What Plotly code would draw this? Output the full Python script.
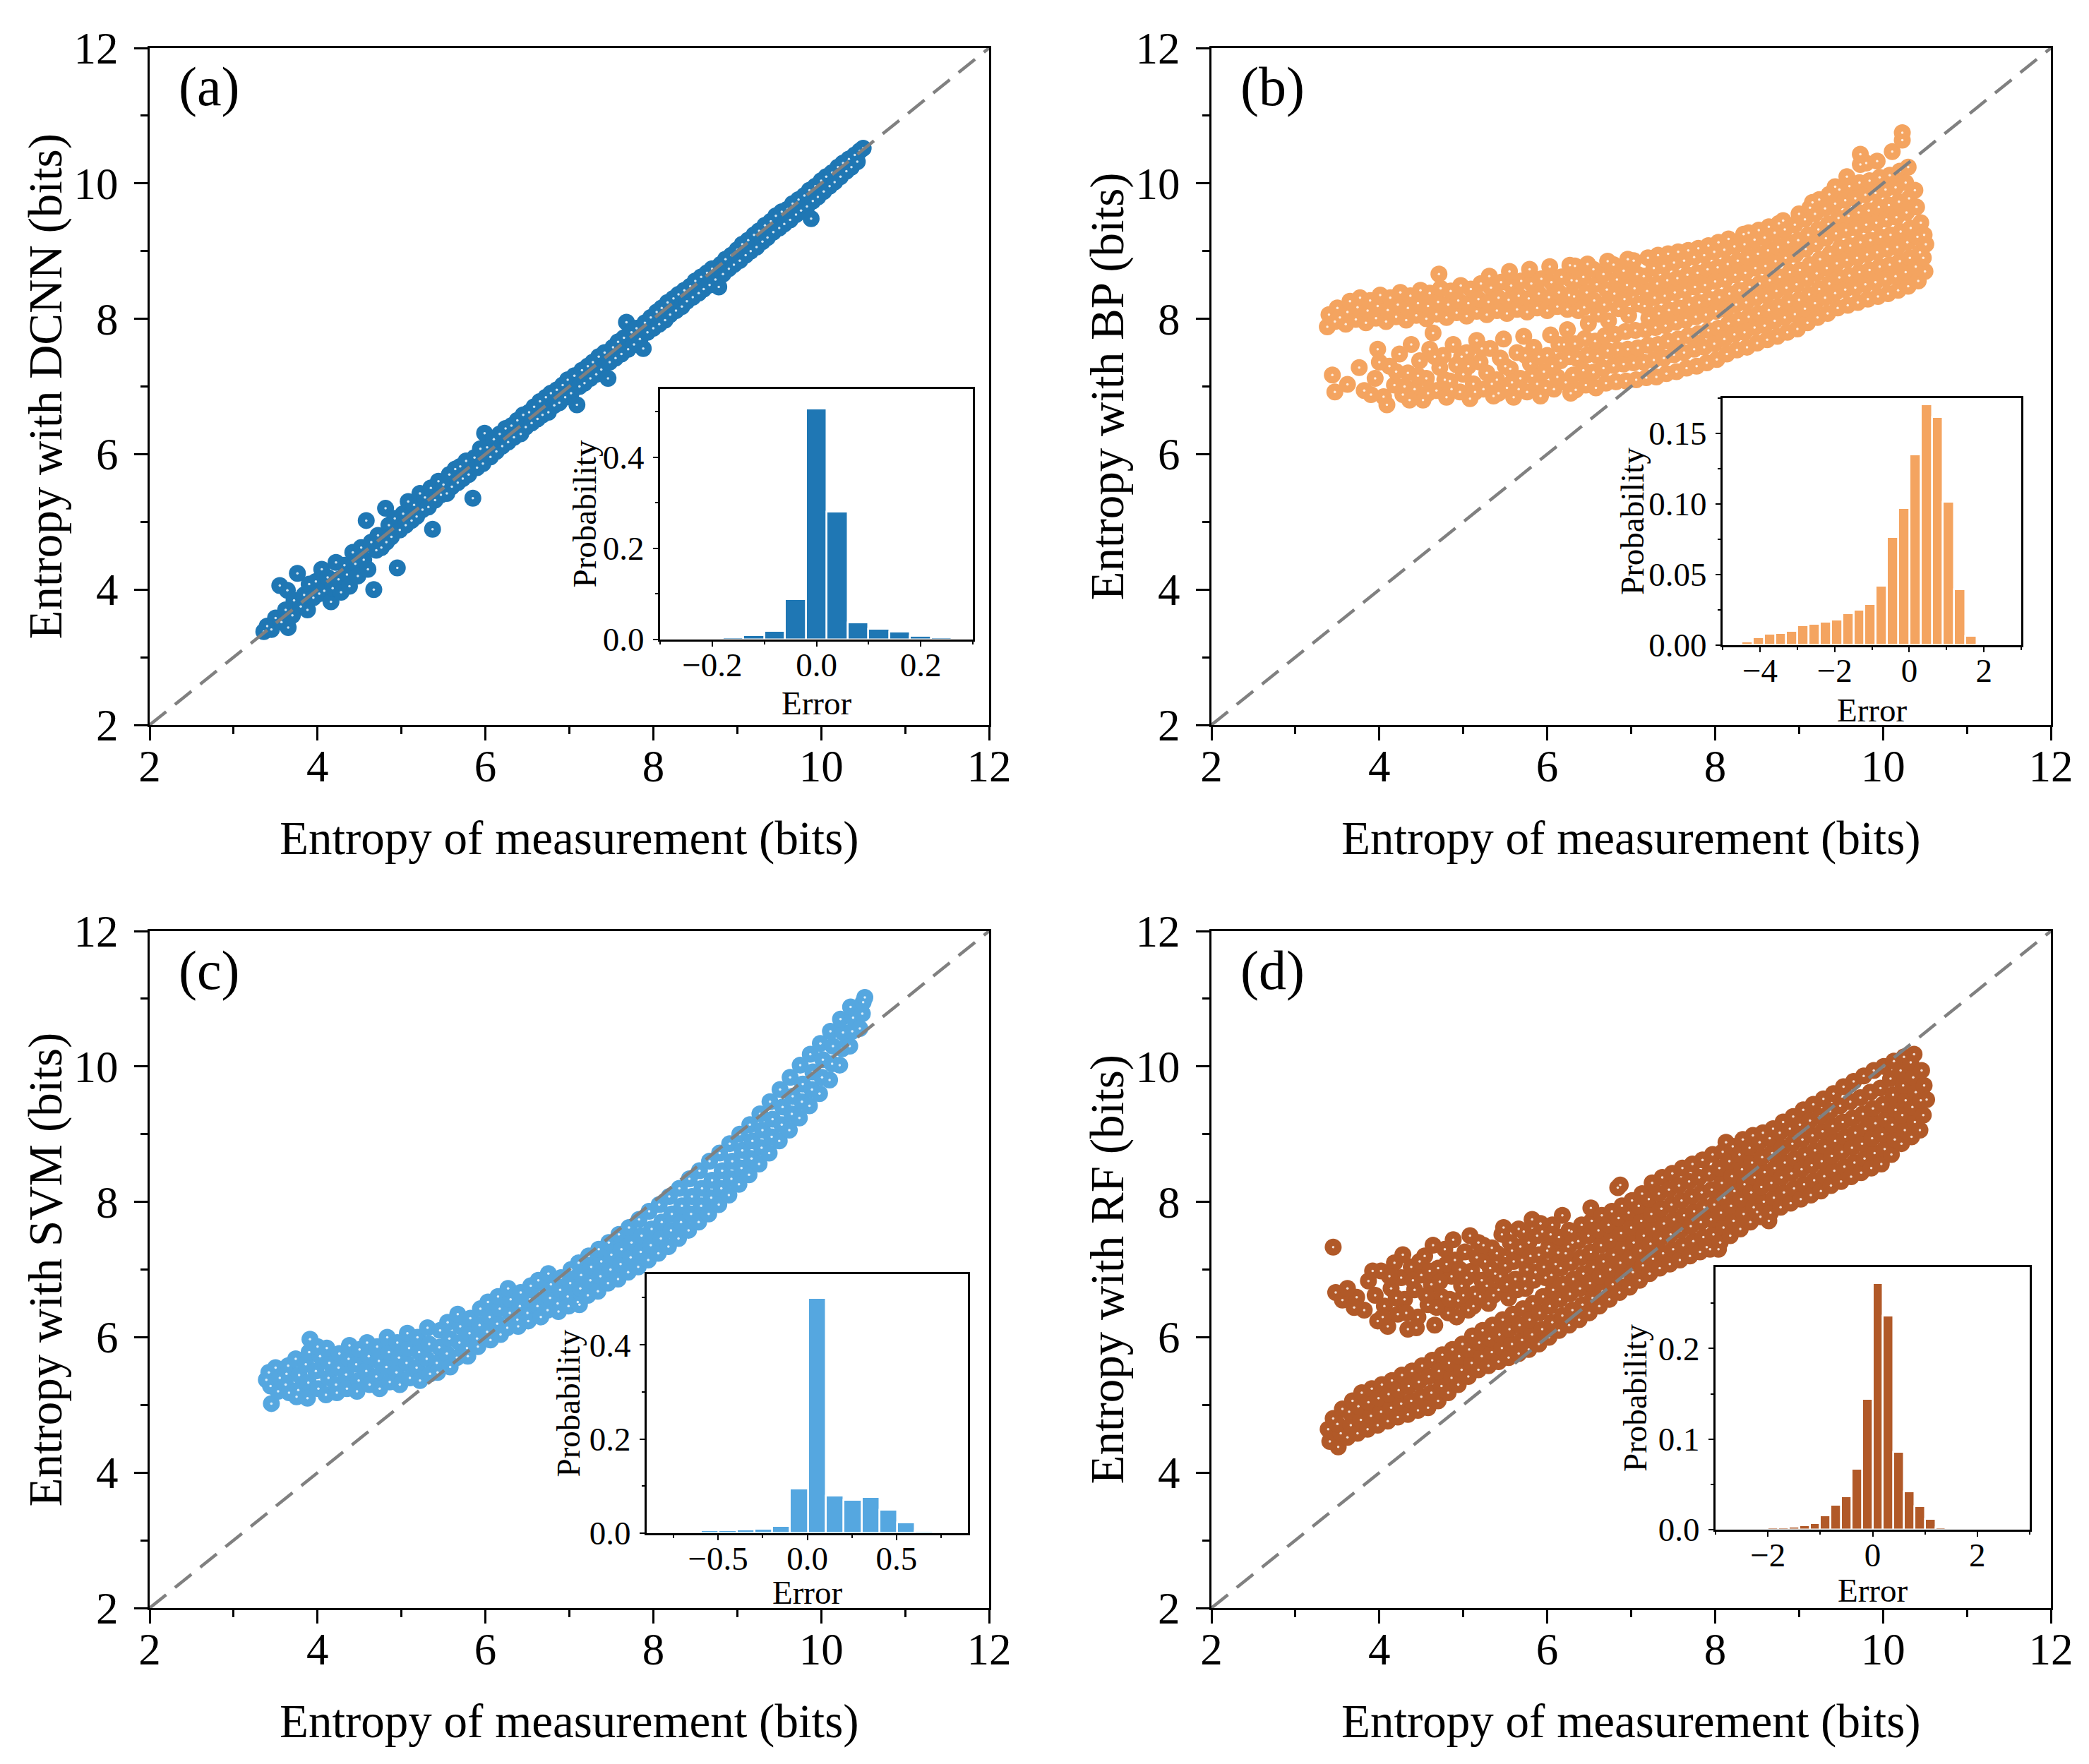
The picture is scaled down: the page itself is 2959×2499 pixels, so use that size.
import plotly.graph_objects as go

W, H = 2959, 2499
FONT = "Liberation Serif"

dcnn_pts = [
    (3.36, 3.38), (3.40, 3.46), (3.45, 3.41), (3.50, 3.58), (3.55, 4.06), (3.57, 3.52),
    (3.62, 3.70), (3.64, 3.99), (3.65, 3.44), (3.70, 3.62), (3.72, 3.84), (3.76, 4.24),
    (3.80, 3.75), (3.84, 3.92), (3.88, 3.70), (3.90, 4.08), (3.95, 3.88), (3.98, 4.12),
    (4.02, 3.94), (4.05, 4.30), (4.08, 3.98), (4.12, 4.18), (4.16, 3.82), (4.18, 4.02),
    (4.22, 4.40), (4.25, 4.15), (4.28, 3.96), (4.32, 4.36), (4.35, 4.22), (4.38, 4.05),
    (4.42, 4.55), (4.45, 4.38), (4.48, 4.20), (4.52, 4.62), (4.55, 4.44), (4.58, 5.02),
    (4.60, 4.30), (4.64, 4.70), (4.67, 4.00), (4.70, 4.58), (4.72, 4.80), (4.76, 4.62),
    (4.81, 5.20), (4.82, 4.70), (4.85, 4.95), (4.88, 4.78), (4.92, 5.05), (4.95, 4.32),
    (4.98, 4.88), (5.02, 5.12), (5.05, 4.95), (5.08, 5.30), (5.12, 5.02), (5.15, 5.25),
    (5.18, 5.08), (5.22, 5.42), (5.25, 5.18), (5.28, 5.36), (5.32, 5.22), (5.35, 5.50),
    (5.37, 4.89), (5.40, 5.32), (5.44, 5.60), (5.47, 5.40), (5.50, 5.55), (5.54, 5.42),
    (5.57, 5.70), (5.60, 5.52), (5.64, 5.78), (5.67, 5.58), (5.70, 5.82), (5.73, 5.64),
    (5.77, 5.90), (5.80, 5.70), (5.85, 5.35), (5.87, 5.95), (5.90, 5.80), (5.94, 6.08),
    (5.97, 5.86), (5.99, 6.31), (6.02, 6.10), (6.06, 5.96), (6.10, 6.22), (6.13, 6.04),
    (6.17, 6.30), (6.20, 6.12), (6.24, 6.38), (6.27, 6.18), (6.31, 6.42), (6.34, 6.25),
    (6.38, 6.50), (6.42, 6.30), (6.45, 6.58), (6.48, 6.40), (6.52, 6.62), (6.55, 6.46),
    (6.58, 6.70), (6.62, 6.52), (6.65, 6.78), (6.68, 6.58), (6.72, 6.84), (6.75, 6.62),
    (6.78, 6.90), (6.82, 6.72), (6.85, 6.95), (6.88, 6.76), (6.92, 7.02), (6.95, 6.84),
    (6.98, 7.10), (7.02, 6.90), (7.06, 7.16), (7.09, 6.73), (7.12, 7.00), (7.15, 7.24),
    (7.18, 7.05), (7.22, 7.30), (7.25, 7.12), (7.28, 7.36), (7.32, 7.18), (7.35, 7.44),
    (7.38, 7.25), (7.42, 7.50), (7.46, 7.12), (7.48, 7.36), (7.52, 7.58), (7.55, 7.42),
    (7.58, 7.66), (7.62, 7.48), (7.65, 7.72), (7.68, 7.95), (7.70, 7.55), (7.74, 7.80),
    (7.77, 7.62), (7.80, 7.86), (7.84, 7.70), (7.88, 7.56), (7.90, 7.94), (7.93, 7.80),
    (7.97, 8.02), (8.00, 7.86), (8.04, 8.10), (8.07, 7.92), (8.10, 8.16), (8.14, 7.98),
    (8.17, 8.24), (8.20, 8.06), (8.24, 8.30), (8.27, 8.12), (8.30, 8.36), (8.34, 8.18),
    (8.37, 8.42), (8.40, 8.26), (8.44, 8.48), (8.47, 8.32), (8.50, 8.56), (8.54, 8.38),
    (8.57, 8.62), (8.60, 8.44), (8.64, 8.68), (8.67, 8.50), (8.70, 8.74), (8.74, 8.58),
    (8.78, 8.47), (8.80, 8.80), (8.83, 8.66), (8.86, 8.88), (8.90, 8.74), (8.93, 8.94),
    (8.96, 8.80), (9.00, 9.02), (9.03, 8.86), (9.06, 9.10), (9.10, 8.94), (9.13, 9.16),
    (9.16, 9.00), (9.20, 9.24), (9.23, 9.06), (9.26, 9.30), (9.30, 9.14), (9.33, 9.38),
    (9.36, 9.20), (9.40, 9.44), (9.43, 9.28), (9.46, 9.52), (9.50, 9.34), (9.53, 9.58),
    (9.56, 9.40), (9.60, 9.62), (9.63, 9.46), (9.66, 9.70), (9.70, 9.54), (9.73, 9.76),
    (9.76, 9.60), (9.80, 9.82), (9.83, 9.66), (9.86, 9.90), (9.88, 9.48), (9.90, 9.74),
    (9.93, 9.96), (9.96, 9.80), (10.00, 10.04), (10.03, 9.88), (10.06, 10.10), (10.10, 9.96),
    (10.13, 10.16), (10.16, 10.02), (10.20, 10.24), (10.23, 10.10), (10.26, 10.30), (10.30, 10.18),
    (10.33, 10.36), (10.36, 10.24), (10.40, 10.42), (10.43, 10.32), (10.46, 10.48), (10.50, 10.52),
]

bp_pts = [
    # upper band
    (3.38, 7.88), (3.40, 8.06), (3.47, 7.96), (3.50, 8.16), (3.53, 8.02), (3.60, 7.92),
    (3.62, 8.10), (3.65, 8.26), (3.72, 7.99), (3.74, 8.17), (3.77, 8.31), (3.84, 7.94),
    (3.86, 8.12), (3.89, 8.27), (3.96, 8.01), (3.98, 8.19), (4.01, 8.35), (4.08, 7.96),
    (4.10, 8.13), (4.13, 8.31), (4.20, 8.03), (4.22, 8.21), (4.25, 8.39), (4.32, 7.98),
    (4.34, 8.16), (4.37, 8.34), (4.44, 8.05), (4.46, 8.23), (4.49, 8.42), (4.56, 8.00),
    (4.58, 8.19), (4.60, 8.38), (4.71, 8.66), (4.68, 8.07), (4.70, 8.25), (4.73, 8.45),
    (4.80, 8.02), (4.82, 8.21), (4.85, 8.41), (4.92, 8.09), (4.94, 8.27), (4.97, 8.49),
    (5.04, 8.04), (5.06, 8.23), (5.09, 8.44), (5.16, 8.11), (5.18, 8.29), (5.21, 8.52),
    (5.28, 8.06), (5.30, 8.25), (5.33, 8.46), (5.31, 8.63), (5.40, 8.12), (5.42, 8.31),
    (5.45, 8.54), (5.52, 8.08), (5.54, 8.28), (5.57, 8.49), (5.55, 8.70), (5.64, 8.14),
    (5.66, 8.34), (5.69, 8.56), (5.76, 8.10), (5.78, 8.30), (5.81, 8.52), (5.79, 8.73),
    (5.88, 8.16), (5.90, 8.37), (5.93, 8.59), (6.00, 8.12), (6.02, 8.32), (6.05, 8.54),
    (6.03, 8.77), (6.12, 8.18), (6.14, 8.39), (6.17, 8.62), (6.24, 8.14), (6.26, 8.35),
    (6.29, 8.57), (6.27, 8.79),
    # lower lobe
    (3.44, 7.17), (3.47, 6.92), (3.62, 7.03), (3.82, 6.94), (3.76, 7.28), (3.95, 7.12),
    (3.98, 7.55), (4.05, 6.85), (4.09, 6.73), (4.12, 7.30), (4.18, 7.02), (4.24, 7.48),
    (4.28, 6.88), (4.34, 7.20), (4.38, 7.62), (4.42, 6.96), (4.48, 7.38), (4.52, 6.80),
    (4.56, 7.12), (4.60, 7.55), (4.64, 7.79), (4.68, 6.94), (4.72, 7.28), (4.76, 7.46),
    (4.80, 6.84), (4.84, 7.08), (4.88, 7.62), (4.92, 7.32), (4.96, 6.92), (5.00, 7.18),
    (5.04, 7.50), (5.08, 6.82), (5.12, 7.04), (5.16, 7.68), (5.20, 7.36), (5.24, 6.96),
    (5.28, 7.20), (5.32, 7.56), (5.36, 6.86), (5.40, 7.10), (5.44, 7.42), (5.48, 7.70),
    (5.52, 6.98), (5.56, 7.26), (5.60, 6.84), (5.64, 7.50), (5.68, 7.12), (5.72, 7.74),
    (5.76, 6.92), (5.80, 7.34), (5.84, 7.58), (5.88, 7.04), (5.92, 6.86), (5.96, 7.22),
    (6.00, 7.46), (6.04, 7.76), (6.08, 6.96), (6.12, 7.14), (6.16, 7.38), (6.20, 7.62),
    (6.24, 7.84), (6.28, 6.90),
    (4.46, 7.16), (4.58, 6.90), (4.66, 7.44), (4.78, 7.10), (4.86, 6.96), (4.98, 7.44),
    (5.06, 7.30), (5.14, 6.92), (5.22, 7.56), (5.34, 7.04), (5.42, 6.90), (5.50, 7.30),
    (5.58, 7.06), (5.66, 6.96), (5.74, 7.46), (5.82, 7.16), (5.90, 7.44), (5.98, 6.98),
    (6.06, 7.30), (6.14, 7.62), (6.22, 7.06), (6.26, 7.44), (4.20, 7.22), (4.30, 7.00),
    (4.36, 6.80), (3.90, 6.88), (4.00, 7.36),
    # main body
    (6.34, 6.95), (6.31, 7.17), (6.36, 7.41), (6.33, 7.63), (6.37, 8.12), (6.32, 8.33), (6.35, 8.56), (6.33, 8.78),
    (6.46, 7.02), (6.43, 7.24), (6.48, 7.47), (6.45, 7.71), (6.49, 7.93), (6.44, 8.17), (6.47, 8.39), (6.43, 8.62), (6.48, 8.81),
    (6.58, 6.98), (6.55, 7.21), (6.60, 7.45), (6.57, 7.67), (6.61, 8.07), (6.56, 8.27), (6.59, 8.51), (6.55, 8.73),
    (6.70, 7.05), (6.67, 7.27), (6.72, 7.53), (6.69, 7.75), (6.73, 7.97), (6.68, 8.21), (6.71, 8.43), (6.67, 8.66), (6.72, 8.85),
    (6.82, 7.07), (6.79, 7.31), (6.84, 7.54), (6.81, 7.77), (6.85, 8.15), (6.80, 8.37), (6.83, 8.58), (6.79, 8.80),
    (6.94, 7.08), (6.91, 7.33), (6.96, 7.55), (6.93, 7.81), (6.97, 8.05), (6.92, 8.29), (6.95, 8.50), (6.91, 8.71), (6.96, 8.88),
    (7.06, 7.10), (7.03, 7.35), (7.08, 7.57), (7.05, 7.83), (7.09, 8.22), (7.04, 8.45), (7.07, 8.66), (7.03, 8.86),
    (7.18, 7.13), (7.15, 7.36), (7.20, 7.61), (7.17, 7.84), (7.21, 8.01), (7.16, 8.19), (7.19, 8.41), (7.15, 8.63), (7.20, 8.90),
    (7.30, 7.14), (7.27, 7.39), (7.32, 7.62), (7.29, 7.87), (7.33, 8.08), (7.28, 8.31), (7.31, 8.52), (7.27, 8.75), (7.32, 8.94),
    (7.42, 7.19), (7.39, 7.42), (7.44, 7.67), (7.41, 7.90), (7.45, 8.13), (7.40, 8.34), (7.43, 8.57), (7.39, 8.78), (7.44, 8.96),
    (7.54, 7.22), (7.51, 7.47), (7.56, 7.70), (7.53, 7.95), (7.57, 8.16), (7.52, 8.39), (7.55, 8.60), (7.51, 8.83), (7.56, 8.99),
    (7.66, 7.27), (7.63, 7.50), (7.68, 7.75), (7.65, 7.98), (7.69, 8.21), (7.64, 8.42), (7.67, 8.65), (7.63, 8.86), (7.68, 9.01),
    (7.78, 7.30), (7.75, 7.55), (7.80, 7.78), (7.77, 8.03), (7.81, 8.24), (7.76, 8.47), (7.79, 8.68), (7.75, 8.91), (7.80, 9.04),
    (7.90, 7.35), (7.87, 7.58), (7.92, 7.83), (7.89, 8.06), (7.93, 8.29), (7.88, 8.50), (7.91, 8.73), (7.87, 8.94), (7.92, 9.08),
    (8.02, 7.40), (7.99, 7.63), (8.04, 7.86), (8.01, 8.11), (8.05, 8.32), (8.00, 8.55), (8.03, 8.76), (7.99, 8.99), (8.04, 9.13),
    (8.14, 7.48), (8.11, 7.70), (8.16, 7.93), (8.13, 8.14), (8.17, 8.37), (8.12, 8.58), (8.15, 8.81), (8.11, 9.02), (8.16, 9.18),
    (8.26, 7.54), (8.23, 7.77), (8.28, 7.98), (8.25, 8.21), (8.29, 8.42), (8.24, 8.65), (8.27, 8.86), (8.23, 9.07), (8.34, 9.25),
    (8.38, 7.58), (8.35, 7.80), (8.40, 8.03), (8.37, 8.24), (8.41, 8.47), (8.36, 8.68), (8.39, 8.91), (8.35, 9.10), (8.40, 9.27),
    (8.50, 7.64), (8.47, 7.87), (8.52, 8.08), (8.49, 8.31), (8.53, 8.52), (8.48, 8.75), (8.51, 8.96), (8.47, 9.17), (8.52, 9.31),
    (8.62, 7.69), (8.59, 7.90), (8.64, 8.13), (8.61, 8.34), (8.65, 8.57), (8.60, 8.78), (8.63, 9.01), (8.59, 9.20), (8.64, 9.36),
    (8.74, 7.74), (8.71, 7.97), (8.76, 8.18), (8.73, 8.41), (8.77, 8.62), (8.72, 8.85), (8.75, 9.06), (8.71, 9.27), (8.76, 9.41),
    (8.86, 7.80), (8.83, 8.02), (8.88, 8.25), (8.85, 8.46), (8.89, 8.69), (8.84, 8.90), (8.87, 9.13), (8.83, 9.32), (8.81, 9.45),
    (8.98, 7.85), (8.95, 8.07), (9.00, 8.28), (8.97, 8.51), (9.01, 8.72), (8.96, 8.95), (8.99, 9.16), (8.95, 9.39), (9.00, 9.55),
    (9.10, 7.94), (9.07, 8.15), (9.12, 8.36), (9.09, 8.59), (9.13, 8.80), (9.08, 9.03), (9.11, 9.24), (9.07, 9.47), (9.13, 9.64),
    (9.22, 8.02), (9.19, 8.23), (9.24, 8.44), (9.21, 8.67), (9.25, 8.88), (9.20, 9.11), (9.23, 9.32), (9.19, 9.55), (9.24, 9.76),
    (9.34, 8.08), (9.31, 8.31), (9.36, 8.52), (9.33, 8.75), (9.37, 8.96), (9.32, 9.19), (9.35, 9.40), (9.31, 9.63), (9.36, 9.84),
    (9.43, 9.95), (9.16, 9.72),
    (9.46, 8.16), (9.43, 8.38), (9.48, 8.61), (9.45, 8.82), (9.49, 9.05), (9.44, 9.26), (9.47, 9.49), (9.43, 9.70), (9.48, 9.91),
    (9.58, 8.20), (9.55, 8.43), (9.60, 8.64), (9.57, 8.87), (9.61, 9.08), (9.56, 9.31), (9.59, 9.52), (9.55, 9.75), (9.60, 9.96), (9.57, 10.10),
    (9.70, 8.24), (9.67, 8.46), (9.72, 8.69), (9.69, 8.90), (9.73, 9.13), (9.68, 9.34), (9.71, 9.57), (9.67, 9.78), (9.72, 10.01), (9.73, 10.28),
    (9.82, 8.29), (9.79, 8.51), (9.84, 8.72), (9.81, 8.95), (9.85, 9.16), (9.80, 9.39), (9.83, 9.60), (9.79, 9.83), (9.84, 10.04), (9.80, 10.30),
    (9.73, 10.43),
    (9.94, 8.33), (9.91, 8.54), (9.96, 8.77), (9.93, 8.98), (9.97, 9.21), (9.92, 9.42), (9.95, 9.65), (9.91, 9.86), (9.96, 10.09), (9.93, 10.33),
    (10.06, 8.37), (10.03, 8.59), (10.08, 8.80), (10.05, 9.03), (10.09, 9.24), (10.04, 9.47), (10.07, 9.68), (10.03, 9.91), (10.08, 10.12), (10.11, 10.47),
    (10.18, 8.42), (10.15, 8.63), (10.20, 8.85), (10.17, 9.06), (10.21, 9.29), (10.16, 9.50), (10.19, 9.73), (10.15, 9.94), (10.20, 10.18),
    (10.23, 10.64), (10.23, 10.75),
    (10.30, 8.48), (10.27, 8.69), (10.32, 8.90), (10.29, 9.13), (10.33, 9.34), (10.28, 9.57), (10.31, 9.78), (10.27, 10.01), (10.30, 10.24),
    (10.42, 8.56), (10.39, 8.77), (10.44, 8.98), (10.41, 9.21), (10.45, 9.42), (10.40, 9.65), (10.38, 9.90),
    (10.50, 8.70), (10.48, 8.90), (10.51, 9.10), (10.49, 9.24),
]

svm_pts = [
    (3.39, 5.37), (3.42, 5.48), (3.45, 5.02), (3.44, 5.28),
    (3.50, 5.55), (3.53, 5.20), (3.55, 5.40),
    (3.62, 5.30), (3.65, 5.58), (3.66, 5.18), (3.63, 5.46),
    (3.74, 5.68), (3.77, 5.22), (3.78, 5.44), (3.75, 5.12),
    (3.86, 5.60), (3.89, 5.33), (3.91, 5.97), (3.88, 5.10), (3.90, 5.78),
    (3.98, 5.50), (4.01, 5.24), (4.03, 5.72), (4.00, 5.86),
    (4.10, 5.15), (4.13, 5.40), (4.14, 5.62), (4.11, 5.84),
    (4.22, 5.30), (4.25, 5.55), (4.26, 5.76), (4.23, 5.18),
    (4.34, 5.45), (4.37, 5.68), (4.38, 5.88), (4.35, 5.24),
    (4.46, 5.60), (4.49, 5.36), (4.50, 5.82), (4.47, 5.20),
    (4.58, 5.50), (4.61, 5.72), (4.62, 5.30), (4.59, 5.92),
    (4.70, 5.42), (4.73, 5.65), (4.74, 5.24), (4.71, 5.86),
    (4.82, 5.56), (4.85, 5.78), (4.86, 5.34), (4.83, 6.00),
    (4.94, 5.48), (4.97, 5.70), (4.98, 5.30), (4.95, 5.92),
    (5.06, 5.62), (5.09, 5.84), (5.10, 5.40), (5.07, 6.06),
    (5.18, 5.55), (5.21, 5.78), (5.22, 5.36), (5.19, 6.00),
    (5.30, 5.68), (5.33, 5.90), (5.34, 5.46), (5.31, 6.14),
    (5.42, 5.62), (5.45, 5.85), (5.46, 6.10), (5.43, 5.48),
    (5.54, 5.76), (5.57, 5.98), (5.58, 5.56), (5.55, 6.22),
    (5.66, 5.70), (5.69, 5.92), (5.70, 6.16), (5.67, 6.34),
    (5.78, 5.84), (5.81, 6.06), (5.82, 6.28), (5.79, 5.72),
    (5.90, 5.98), (5.93, 6.18), (5.94, 6.42), (5.91, 5.86),
    (6.02, 6.08), (6.05, 6.30), (6.06, 5.96), (6.03, 6.52),
    (6.14, 6.20), (6.17, 6.42), (6.18, 6.04), (6.15, 6.60),
    (6.26, 6.14), (6.29, 6.36), (6.30, 6.56), (6.27, 6.72),
    (6.38, 6.26), (6.41, 6.46), (6.42, 6.66), (6.39, 6.16),
    (6.50, 6.36), (6.53, 6.56), (6.54, 6.76), (6.51, 6.24),
    (6.62, 6.46), (6.65, 6.66), (6.66, 6.30), (6.63, 6.84),
    (6.74, 6.40), (6.77, 6.58), (6.78, 6.78), (6.75, 6.94),
    (6.86, 6.50), (6.89, 6.70), (6.90, 6.88), (6.87, 6.38),
    (6.98, 6.60), (7.01, 6.80), (7.02, 7.00), (6.99, 6.46),
    (7.10, 6.52), (7.13, 6.72), (7.14, 6.92), (7.11, 7.10), (7.12, 6.48),
    (7.22, 6.62), (7.25, 6.84), (7.26, 7.04), (7.23, 7.20),
    (7.34, 6.68), (7.37, 6.90), (7.38, 7.12), (7.35, 7.30),
    (7.46, 6.80), (7.49, 7.00), (7.50, 7.22), (7.47, 7.40),
    (7.58, 6.86), (7.61, 7.08), (7.62, 7.30), (7.59, 7.52),
    (7.70, 6.96), (7.73, 7.18), (7.74, 7.40), (7.71, 7.62),
    (7.82, 7.04), (7.85, 7.26), (7.86, 7.50), (7.83, 7.74),
    (7.94, 7.14), (7.97, 7.36), (7.98, 7.60), (7.95, 7.86),
    (8.06, 7.24), (8.09, 7.46), (8.10, 7.70), (8.07, 7.96),
    (8.18, 7.34), (8.21, 7.58), (8.22, 7.82), (8.19, 8.08),
    (8.30, 7.46), (8.33, 7.70), (8.34, 7.94), (8.31, 8.20),
    (8.42, 7.58), (8.45, 7.82), (8.46, 8.08), (8.43, 8.34),
    (8.54, 7.70), (8.57, 7.94), (8.58, 8.20), (8.55, 8.46),
    (8.66, 7.82), (8.69, 8.06), (8.70, 8.32), (8.67, 8.60),
    (8.78, 7.96), (8.81, 8.20), (8.82, 8.46), (8.79, 8.72),
    (8.90, 8.10), (8.93, 8.34), (8.94, 8.60), (8.91, 8.86),
    (9.02, 8.26), (9.05, 8.50), (9.06, 8.76), (9.03, 9.00),
    (9.14, 8.40), (9.17, 8.64), (9.18, 8.90), (9.15, 9.14),
    (9.26, 8.56), (9.29, 8.80), (9.30, 9.06), (9.27, 9.30),
    (9.38, 8.72), (9.41, 8.96), (9.42, 9.22), (9.39, 9.48),
    (9.50, 8.90), (9.53, 9.14), (9.54, 9.40), (9.51, 9.66),
    (9.62, 9.06), (9.65, 9.30), (9.66, 9.56), (9.63, 9.84),
    (9.74, 9.24), (9.77, 9.48), (9.78, 9.74), (9.75, 10.02),
    (9.86, 9.42), (9.89, 9.66), (9.90, 9.92), (9.87, 10.18),
    (9.98, 9.60), (10.01, 9.84), (10.02, 10.10), (9.99, 10.34),
    (10.10, 9.80), (10.13, 10.04), (10.14, 10.30), (10.11, 10.52),
    (10.22, 10.02), (10.25, 10.26), (10.26, 10.50), (10.23, 10.70),
    (10.34, 10.30), (10.37, 10.52), (10.38, 10.72), (10.35, 10.88),
    (10.46, 10.56), (10.49, 10.78), (10.50, 10.95), (10.52, 11.02),
]

rf_pts = [
    # main band
    (3.39, 4.64), (3.51, 4.38), (3.45, 4.80), (3.41, 4.46),
    (3.54, 4.58), (3.56, 4.94), (3.50, 4.72),
    (3.62, 4.52), (3.66, 4.70), (3.64, 4.90), (3.68, 5.06),
    (3.74, 4.58), (3.78, 4.78), (3.75, 4.98), (3.79, 5.18),
    (3.86, 4.64), (3.90, 4.84), (3.87, 5.04), (3.91, 5.24),
    (3.98, 4.70), (4.02, 4.90), (3.99, 5.10), (4.03, 5.30),
    (4.10, 4.76), (4.14, 4.96), (4.11, 5.16), (4.15, 5.36),
    (4.22, 4.82), (4.26, 5.02), (4.23, 5.22), (4.27, 5.44),
    (4.34, 4.86), (4.38, 5.06), (4.35, 5.28), (4.39, 5.50),
    (4.46, 4.92), (4.50, 5.12), (4.47, 5.34), (4.51, 5.58),
    (4.58, 4.96), (4.62, 5.18), (4.59, 5.42), (4.63, 5.66),
    (4.70, 5.06), (4.74, 5.28), (4.71, 5.50), (4.75, 5.74),
    (4.82, 5.18), (4.86, 5.40), (4.83, 5.62), (4.87, 5.82),
    (4.94, 5.30), (4.98, 5.52), (4.95, 5.72), (4.99, 5.90),
    (5.06, 5.42), (5.10, 5.62), (5.07, 5.82), (5.11, 6.02),
    (5.18, 5.52), (5.22, 5.72), (5.19, 5.92), (5.23, 6.10),
    (5.30, 5.58), (5.34, 5.78), (5.31, 5.98), (5.35, 6.18),
    (5.42, 5.64), (5.46, 5.84), (5.43, 6.04), (5.47, 6.26),
    (5.54, 5.70), (5.58, 5.90), (5.55, 6.12), (5.59, 6.34),
    (5.66, 5.76), (5.70, 5.96), (5.67, 6.18), (5.71, 6.42),
    (5.78, 5.82), (5.82, 6.04), (5.79, 6.26), (5.83, 6.50),
    (5.90, 5.90), (5.94, 6.12), (5.91, 6.36), (5.95, 6.60),
    (6.02, 6.00), (6.06, 6.22), (6.03, 6.46), (6.07, 6.70), (6.05, 6.92),
    (6.14, 6.10), (6.18, 6.32), (6.15, 6.56), (6.19, 6.78), (6.16, 7.02), (6.13, 7.25),
    (6.26, 6.18), (6.30, 6.40), (6.27, 6.64), (6.31, 6.86), (6.28, 7.10), (6.25, 7.34), (6.29, 7.56),
    (6.38, 6.26), (6.42, 6.48), (6.39, 6.72), (6.43, 6.94), (6.40, 7.18), (6.37, 7.42), (6.41, 7.66),
    (6.50, 6.36), (6.54, 6.58), (6.51, 6.80), (6.55, 7.04), (6.52, 7.26), (6.49, 7.50), (6.53, 7.72), (6.52, 7.91),
    (6.62, 6.46), (6.66, 6.68), (6.63, 6.90), (6.67, 7.12), (6.64, 7.36), (6.61, 7.58), (6.65, 7.80),
    (6.74, 6.56), (6.78, 6.78), (6.75, 7.00), (6.79, 7.22), (6.76, 7.44), (6.73, 7.66), (6.77, 7.86),
    (6.86, 6.66), (6.90, 6.88), (6.87, 7.10), (6.91, 7.32), (6.88, 7.54), (6.85, 7.76), (6.89, 7.94),
    (6.84, 8.21), (6.87, 8.25),
    (6.98, 6.74), (7.02, 6.96), (6.99, 7.18), (7.03, 7.40), (7.00, 7.62), (6.97, 7.84), (7.01, 8.02),
    (7.10, 6.84), (7.14, 7.06), (7.11, 7.28), (7.15, 7.50), (7.12, 7.72), (7.09, 7.94), (7.13, 8.12),
    (7.22, 6.94), (7.26, 7.16), (7.23, 7.38), (7.27, 7.60), (7.24, 7.82), (7.21, 8.04), (7.25, 8.28),
    (7.34, 7.02), (7.38, 7.24), (7.35, 7.46), (7.39, 7.68), (7.36, 7.90), (7.33, 8.12), (7.37, 8.36),
    (7.46, 7.08), (7.50, 7.30), (7.47, 7.52), (7.51, 7.74), (7.48, 7.96), (7.45, 8.18), (7.49, 8.42),
    (7.58, 7.14), (7.62, 7.36), (7.59, 7.58), (7.63, 7.80), (7.60, 8.02), (7.57, 8.24), (7.61, 8.50),
    (7.70, 7.20), (7.74, 7.42), (7.71, 7.64), (7.75, 7.86), (7.72, 8.08), (7.69, 8.30), (7.73, 8.56),
    (7.82, 7.26), (7.86, 7.48), (7.83, 7.70), (7.87, 7.92), (7.84, 8.14), (7.81, 8.36), (7.85, 8.62),
    (7.94, 7.30), (7.98, 7.52), (7.95, 7.74), (7.99, 7.96), (7.96, 8.18), (7.93, 8.42), (7.97, 8.70),
    (7.90, 7.33), (8.04, 7.30),
    (8.06, 7.40), (8.10, 7.62), (8.07, 7.84), (8.11, 8.06), (8.08, 8.28), (8.05, 8.50), (8.09, 8.74), (8.13, 8.88),
    (8.18, 7.50), (8.22, 7.72), (8.19, 7.94), (8.23, 8.16), (8.20, 8.38), (8.17, 8.60), (8.21, 8.82),
    (8.30, 7.60), (8.34, 7.82), (8.31, 8.04), (8.35, 8.26), (8.32, 8.48), (8.29, 8.70), (8.33, 8.92),
    (8.42, 7.70), (8.46, 7.92), (8.43, 8.14), (8.47, 8.36), (8.44, 8.58), (8.41, 8.80), (8.45, 8.98),
    (8.54, 7.78), (8.58, 8.00), (8.55, 8.22), (8.59, 8.44), (8.56, 8.66), (8.53, 8.88), (8.57, 9.02),
    (8.50, 7.85), (8.64, 7.72),
    (8.66, 7.84), (8.70, 8.06), (8.67, 8.28), (8.71, 8.50), (8.68, 8.72), (8.65, 8.94), (8.69, 9.08),
    (8.78, 7.92), (8.82, 8.14), (8.79, 8.36), (8.83, 8.58), (8.80, 8.80), (8.77, 9.02), (8.81, 9.18),
    (8.90, 7.98), (8.94, 8.20), (8.91, 8.42), (8.95, 8.64), (8.92, 8.86), (8.89, 9.08), (8.93, 9.26),
    (9.02, 8.04), (9.06, 8.26), (9.03, 8.48), (9.07, 8.70), (9.04, 8.92), (9.01, 9.14), (9.05, 9.36),
    (9.14, 8.10), (9.18, 8.32), (9.15, 8.54), (9.19, 8.76), (9.16, 8.98), (9.13, 9.20), (9.17, 9.44),
    (9.26, 8.16), (9.30, 8.38), (9.27, 8.60), (9.31, 8.82), (9.28, 9.04), (9.25, 9.26), (9.29, 9.52),
    (9.38, 8.24), (9.42, 8.46), (9.39, 8.68), (9.43, 8.90), (9.40, 9.12), (9.37, 9.34), (9.41, 9.60),
    (9.50, 8.30), (9.54, 8.52), (9.51, 8.74), (9.55, 8.96), (9.52, 9.18), (9.49, 9.42), (9.53, 9.70),
    (9.62, 8.37), (9.66, 8.58), (9.63, 8.80), (9.67, 9.02), (9.64, 9.24), (9.61, 9.48), (9.65, 9.78),
    (9.74, 8.43), (9.78, 8.64), (9.75, 8.86), (9.79, 9.08), (9.76, 9.30), (9.73, 9.54), (9.77, 9.86),
    (9.86, 8.50), (9.90, 8.72), (9.87, 8.94), (9.91, 9.16), (9.88, 9.38), (9.85, 9.62), (9.89, 9.94),
    (9.98, 8.56), (10.02, 8.78), (9.99, 9.00), (10.03, 9.22), (10.00, 9.44), (9.97, 9.68), (10.01, 10.00),
    (10.10, 8.70), (10.14, 8.92), (10.11, 9.14), (10.15, 9.36), (10.12, 9.58), (10.09, 9.82), (10.13, 10.08),
    (10.22, 8.86), (10.26, 9.06), (10.23, 9.28), (10.27, 9.50), (10.24, 9.72), (10.21, 9.94), (10.25, 10.14),
    (10.34, 8.96), (10.38, 9.18), (10.35, 9.40), (10.39, 9.62), (10.36, 9.84), (10.33, 10.06), (10.37, 10.18),
    (10.44, 9.06), (10.48, 9.28), (10.45, 9.50), (10.49, 9.72), (10.46, 9.94), (10.52, 9.51),
    # upper-left lobe
    (3.45, 7.33), (3.48, 6.66), (3.56, 6.55), (3.73, 6.59), (3.82, 6.40), (3.87, 6.83),
    (3.95, 6.62), (3.98, 6.24), (4.02, 6.98), (4.06, 6.46), (4.10, 6.16), (4.14, 6.72),
    (4.18, 7.10), (4.22, 6.34), (4.26, 6.88), (4.30, 6.56), (4.34, 6.12), (4.38, 7.04),
    (4.42, 6.70), (4.46, 6.30), (4.50, 6.92), (4.54, 7.20), (4.58, 6.48), (4.62, 6.78),
    (4.66, 6.18), (4.70, 7.02), (4.74, 6.60), (4.78, 7.30), (4.82, 6.36), (4.86, 6.90),
    (4.90, 7.14), (4.94, 6.54), (4.98, 6.76), (5.02, 7.26), (5.06, 6.40), (5.10, 6.98),
    (5.14, 6.64), (5.18, 7.40), (5.22, 6.84), (5.26, 7.12), (5.30, 6.50), (5.34, 7.32),
    (5.38, 6.94), (5.42, 6.70), (5.46, 7.52), (5.50, 7.06), (5.54, 6.58), (5.58, 7.28),
    (5.62, 6.86), (5.66, 7.60), (5.70, 7.14), (5.74, 6.72), (5.78, 7.40), (5.82, 7.74),
    (5.86, 6.96), (5.90, 7.22), (5.94, 7.56), (5.98, 6.88), (6.02, 7.34), (6.06, 7.66),
    (6.10, 7.08), (6.14, 7.48), (6.18, 7.80), (6.22, 7.24), (6.26, 7.58), (6.30, 7.40),
    (3.62, 6.72), (3.70, 6.44), (3.92, 6.98), (4.04, 6.30), (4.12, 6.90), (4.20, 6.58),
    (4.28, 7.22), (4.32, 6.36), (4.40, 6.84), (4.44, 6.14), (4.48, 7.12), (4.56, 6.62),
    (4.60, 6.98), (4.64, 7.36), (4.68, 6.44), (4.72, 6.82), (4.80, 7.08), (4.84, 6.56),
    (4.88, 7.44), (4.92, 6.30), (4.96, 7.00), (5.00, 6.62), (5.04, 6.88), (5.08, 7.50),
    (5.12, 6.46), (5.16, 7.18), (5.20, 6.60), (5.24, 7.36), (5.28, 6.76), (5.32, 7.02),
    (5.36, 6.62), (5.40, 7.24), (5.44, 6.90), (5.48, 7.62), (5.52, 6.78), (5.56, 7.40),
    (5.60, 7.12), (5.64, 6.70), (5.68, 7.34), (5.72, 7.56), (5.76, 7.00), (5.80, 7.20),
    (5.84, 6.84), (5.88, 7.50), (5.92, 7.68), (5.96, 7.04), (6.00, 7.28), (6.04, 7.52),
]

# inset histograms: bin centres of the error and the probability of each bin
dcnn_err = [-0.16, -0.12, -0.08, -0.04, 0.0, 0.04, 0.08, 0.12, 0.16, 0.20, 0.24]
dcnn_prob = [0.004, 0.0098, 0.018, 0.089, 0.507, 0.281, 0.037, 0.024, 0.0165, 0.0077, 0.004]

bp_err = [-4.34, -4.04, -3.74, -3.44, -3.14, -2.84, -2.54, -2.24, -1.94, -1.64, -1.34,
          -1.04, -0.74, -0.44, -0.14, 0.16, 0.46, 0.76, 1.06, 1.36, 1.66]
bp_prob = [0.0023, 0.0055, 0.0078, 0.0087, 0.0098, 0.0142, 0.0150, 0.0165, 0.0180, 0.0223, 0.0248,
           0.0290, 0.0418, 0.0767, 0.0970, 0.1350, 0.1707, 0.1615, 0.1017, 0.0397, 0.0063]

svm_err = [-0.845, -0.745, -0.645, -0.545, -0.445, -0.345, -0.245, -0.145,
           -0.045, 0.055, 0.155, 0.255, 0.355, 0.455, 0.555, 0.655]
svm_prob = [0.0025, 0.0025, 0.0025, 0.006, 0.006, 0.007, 0.009, 0.015,
            0.095, 0.4985, 0.080, 0.071, 0.077, 0.050, 0.0225, 0.005]

rf_err = [-2.5, -2.3, -2.1, -1.9, -1.7, -1.5, -1.3, -1.1, -0.9, -0.7,
          -0.5, -0.3, -0.1, 0.1, 0.3, 0.5, 0.7, 0.9, 1.1, 1.3]
rf_prob = [0.0008, 0.0008, 0.0016, 0.002, 0.002, 0.0034, 0.0047, 0.0073, 0.0159, 0.0276,
           0.037, 0.0667, 0.1445, 0.2724, 0.236, 0.086, 0.042, 0.026, 0.012, 0.002]

main_ticks = [2, 4, 6, 8, 10, 12]


def px_x(v):
    return v / W


def px_y(v):
    return 1 - v / H


# panel layout in pixels of the 2959 x 2499 figure
panels = [
    dict(pts=dcnn_pts, color="#1f77b4", name="DCNN", tag="(a)",
         box=(204, 1393, 60, 1019), inset=(927, 1370, 543, 898),
         err=dcnn_err, prob=dcnn_prob, bw=0.04,
         xr=[-0.3, 0.3], xt=[-0.2, 0.0, 0.2], xf=".1f", xm=0.1,
         yr=[0, 0.55], yt=[0.0, 0.2, 0.4], yf=".1f", ym=0.1, plab=108, elab=90),
    dict(pts=bp_pts, color="#f4a460", name="BP", tag="(b)",
         box=(1708, 2897, 60, 1019), inset=(2432, 2855, 556, 906),
         err=bp_err, prob=bp_prob, bw=0.3,
         xr=[-5, 3], xt=[-4, -2, 0, 2], xf="d", xm=1,
         yr=[0, 0.175], yt=[0.0, 0.05, 0.10, 0.15], yf=".2f", ym=0.025, plab=128, elab=92),
    dict(pts=svm_pts, color="#55a7e0", name="SVM", tag="(c)",
         box=(204, 1393, 1311, 2270), inset=(908, 1363, 1797, 2164),
         err=svm_err, prob=svm_prob, bw=0.1,
         xr=[-0.9, 0.9], xt=[-0.5, 0.0, 0.5], xf=".1f", xm=0.25,
         yr=[0, 0.55], yt=[0.0, 0.2, 0.4], yf=".1f", ym=0.1, plab=112, elab=84),
    dict(pts=rf_pts, color="#b15928", name="RF", tag="(d)",
         box=(1708, 2897, 1311, 2270), inset=(2422, 2867, 1787, 2159),
         err=rf_err, prob=rf_prob, bw=0.2,
         xr=[-3, 3], xt=[-2, 0, 2], xf="d", xm=1,
         yr=[0, 0.29], yt=[0.0, 0.1, 0.2], yf=".1f", ym=0.05, plab=114, elab=86),
]

fig = go.Figure()
layout = {}
annotations = []

for i, p in enumerate(panels):
    k = i + 1
    ki = i + 5
    xs = [a for a, b in p["pts"]]
    ys = [b for a, b in p["pts"]]
    xa, ya = f"x{k}", f"y{k}"
    fig.add_trace(go.Scatter(x=xs, y=ys, mode="markers", xaxis=xa, yaxis=ya,
                             marker=dict(size=24, color=p["color"], line=dict(width=0))))
    # small white glint on each ball
    fig.add_trace(go.Scatter(x=xs, y=ys, mode="markers", xaxis=xa, yaxis=ya,
                             marker=dict(size=3.5, color="rgba(255,255,255,0.8)", line=dict(width=0))))
    fig.add_trace(go.Scatter(x=[2, 12], y=[2, 12], mode="lines", xaxis=xa, yaxis=ya,
                             line=dict(color="#808080", width=4.5, dash="30px,16px")))

    x0, x1, y0, y1 = p["box"]
    common = dict(showline=True, linecolor="black", linewidth=3, mirror=True,
                  showgrid=False, zeroline=False, ticks="outside", ticklen=19,
                  tickwidth=3, tickcolor="black", range=[2, 12], tickvals=main_ticks,
                  automargin=False,
                  tickfont=dict(family=FONT, size=63, color="black"),
                  minor=dict(dtick=1, tick0=2, ticks="outside", ticklen=10,
                             tickwidth=3, tickcolor="black"))
    layout["xaxis" + ("" if k == 1 else str(k))] = dict(
        common, domain=[px_x(x0), px_x(x1)], anchor=ya, ticklabelstandoff=-18)
    layout["yaxis" + ("" if k == 1 else str(k))] = dict(
        common, domain=[px_y(y1), px_y(y0)], anchor=xa, ticklabelstandoff=10)

    annotations.append(dict(text="Entropy of measurement (bits)", xref="paper", yref="paper",
                            x=px_x((x0 + x1) / 2), y=px_y(y1 + 160), showarrow=False,
                            xanchor="center", yanchor="middle",
                            font=dict(family=FONT, size=67, color="black")))
    annotations.append(dict(text=f"Entropy with {p['name']} (bits)", xref="paper", yref="paper",
                            x=px_x(x0 - 148), y=px_y((y0 + y1) / 2), showarrow=False,
                            textangle=-90, xanchor="center", yanchor="middle",
                            font=dict(family=FONT, size=67, color="black")))
    annotations.append(dict(text=p["tag"], xref="paper", yref="paper",
                            x=px_x(x0 + 39), y=px_y(y0 + 55), showarrow=False,
                            xanchor="left", yanchor="middle",
                            font=dict(family=FONT, size=78, color="black")))

    # inset histogram of the prediction error
    ix0, ix1, iy0, iy1 = p["inset"]
    xi, yi = f"x{ki}", f"y{ki}"
    fig.add_trace(go.Bar(x=p["err"], y=p["prob"], width=p["bw"], xaxis=xi, yaxis=yi,
                         marker=dict(color=p["color"], line=dict(color="white", width=2.5))))
    icommon = dict(showline=True, linecolor="black", linewidth=3, mirror=True,
                   showgrid=False, zeroline=False, ticks="outside", ticklen=7,
                   tickwidth=2, tickcolor="black", automargin=False,
                   tickfont=dict(family=FONT, size=47, color="black"))
    layout[f"xaxis{ki}"] = dict(icommon, domain=[px_x(ix0), px_x(ix1)], anchor=yi,
                                range=p["xr"], tickvals=p["xt"], tickformat=p["xf"],
                                ticklabelstandoff=-14,
                                minor=dict(dtick=p["xm"], ticks="outside", ticklen=4,
                                           tickwidth=2, tickcolor="black"))
    layout[f"yaxis{ki}"] = dict(icommon, domain=[px_y(iy1), px_y(iy0)], anchor=xi,
                                range=p["yr"], tickvals=p["yt"], tickformat=p["yf"],
                                ticklabelstandoff=3,
                                minor=dict(dtick=p["ym"], ticks="outside", ticklen=4,
                                           tickwidth=2, tickcolor="black"))
    annotations.append(dict(text="Probability", xref="paper", yref="paper",
                            x=px_x(ix0 - p["plab"]), y=px_y((iy0 + iy1) / 2), showarrow=False,
                            textangle=-90, xanchor="center", yanchor="middle",
                            font=dict(family=FONT, size=47, color="black")))
    annotations.append(dict(text="Error", xref="paper", yref="paper",
                            x=px_x((ix0 + ix1) / 2), y=px_y(iy1 + p["elab"]), showarrow=False,
                            xanchor="center", yanchor="middle",
                            font=dict(family=FONT, size=47, color="black")))

fig.update_layout(
    width=W, height=H, margin=dict(l=0, r=0, t=0, b=0, autoexpand=False),
    paper_bgcolor="white", plot_bgcolor="white", showlegend=False,
    bargap=0, annotations=annotations, font=dict(family=FONT, color="black"),
    **layout,
)

fig.write_html("out.html")
